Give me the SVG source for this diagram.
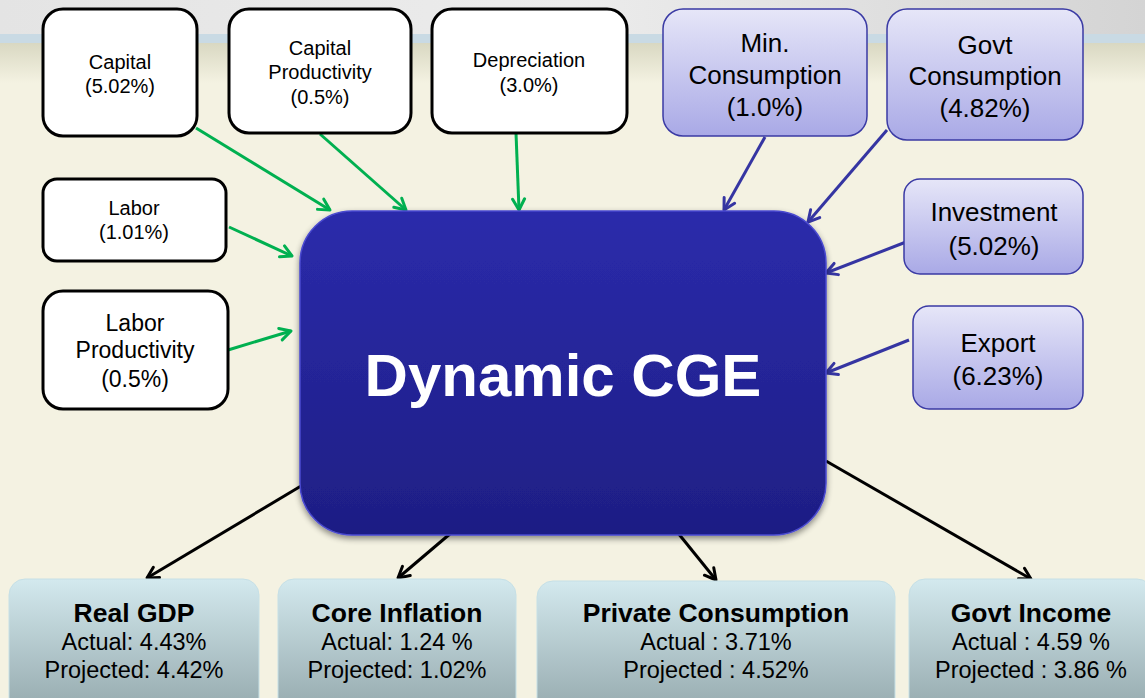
<svg xmlns="http://www.w3.org/2000/svg" width="1145" height="698" viewBox="0 0 1145 698">
<defs>
<linearGradient id="topband" x1="0" y1="0" x2="1" y2="0">
<stop offset="0" stop-color="#e4e4e4"/><stop offset="0.5" stop-color="#ececec"/><stop offset="1" stop-color="#d4d4d4"/>
</linearGradient>
<linearGradient id="beigefade" x1="0" y1="0" x2="0" y2="1">
<stop offset="0" stop-color="#d9d8c2"/><stop offset="1" stop-color="#f4f2e2"/>
</linearGradient>
<linearGradient id="purple" x1="0" y1="0" x2="0" y2="1">
<stop offset="0" stop-color="#e6e6f8"/><stop offset="1" stop-color="#a9a9e6"/>
</linearGradient>
<linearGradient id="core" x1="0" y1="0" x2="0" y2="1">
<stop offset="0" stop-color="#2b2bab"/><stop offset="1" stop-color="#1e1e84"/>
</linearGradient>
<linearGradient id="teal" x1="0" y1="0" x2="0" y2="1">
<stop offset="0" stop-color="#d3e9ee"/><stop offset="1" stop-color="#94a8ac"/>
</linearGradient>
<marker id="ag" viewBox="0 0 16 16" refX="14" refY="8" markerWidth="16" markerHeight="16" markerUnits="userSpaceOnUse" orient="auto">
<path d="M3,2 L14,8 L3,14" fill="none" stroke="#00b050" stroke-width="3" stroke-linecap="round" stroke-linejoin="round"/>
</marker>
<marker id="ab" viewBox="0 0 16 16" refX="14" refY="8" markerWidth="16" markerHeight="16" markerUnits="userSpaceOnUse" orient="auto">
<path d="M3,2 L14,8 L3,14" fill="none" stroke="#3535a2" stroke-width="3" stroke-linecap="round" stroke-linejoin="round"/>
</marker>
<marker id="ak" viewBox="0 0 16 16" refX="14" refY="8" markerWidth="16" markerHeight="16" markerUnits="userSpaceOnUse" orient="auto">
<path d="M3,2 L14,8 L3,14" fill="none" stroke="#000" stroke-width="3" stroke-linecap="round" stroke-linejoin="round"/>
</marker>
<filter id="sh" x="-10%" y="-10%" width="120%" height="125%">
<feGaussianBlur in="SourceAlpha" stdDeviation="3"/><feOffset dy="3"/>
<feComponentTransfer><feFuncA type="linear" slope="0.45"/></feComponentTransfer>
<feMerge><feMergeNode/><feMergeNode in="SourceGraphic"/></feMerge>
</filter>
</defs>
<style>
text{font-family:"Liberation Sans",Arial,sans-serif;text-anchor:middle;fill:#000}
.wbox{fill:#fff;stroke:#000;stroke-width:3}
.pbox{fill:url(#purple);stroke:#3a3aa4;stroke-width:1.5}
.tbox{fill:url(#teal);stroke:#c6e0e6;stroke-width:1}
.s20{font-size:20px}
.s23{font-size:23px}
.s26{font-size:26px}
.tt{font-size:26.5px;font-weight:bold}
.tl{font-size:23.5px}
.g{stroke:#00b050;stroke-width:3;fill:none;marker-end:url(#ag)}
.b{stroke:#3535a2;stroke-width:3;fill:none;marker-end:url(#ab)}
.k{stroke:#000;stroke-width:3;fill:none;marker-end:url(#ak)}
</style>
<rect x="0" y="0" width="1145" height="698" fill="#f4f2e2"/>
<rect x="0" y="0" width="1145" height="34" fill="url(#topband)"/>
<rect x="0" y="34" width="1145" height="9" fill="#c9dae4"/>
<rect x="0" y="43" width="1145" height="40" fill="url(#beigefade)"/>

<g id="connectors">
<line class="g" x1="196" y1="128" x2="330" y2="210"/>
<line class="g" x1="320" y1="134" x2="406" y2="210"/>
<line class="g" x1="516" y1="133" x2="519" y2="210"/>
<line class="g" x1="229" y1="227" x2="292" y2="256"/>
<line class="g" x1="228" y1="350" x2="291" y2="331"/>
<line class="b" x1="765" y1="137" x2="724" y2="210"/>
<line class="b" x1="887" y1="130" x2="808" y2="222"/>
<line class="b" x1="906" y1="242" x2="826" y2="273"/>
<line class="b" x1="909" y1="340" x2="826" y2="373"/>
<line class="k" x1="301" y1="486" x2="147" y2="578"/>
<line class="k" x1="451" y1="533" x2="398" y2="578"/>
<line class="k" x1="678" y1="533" x2="716" y2="580"/>
<line class="k" x1="826" y1="461" x2="1031" y2="579"/>
</g>

<g id="capital">
<rect class="wbox" x="43" y="9" width="154" height="127" rx="20"/>
<text class="s20" x="120" y="69">Capital</text>
<text class="s20" x="120" y="93">(5.02%)</text>
</g>
<g id="capital-productivity">
<rect class="wbox" x="229" y="9" width="182" height="124" rx="20"/>
<text class="s20" x="320" y="55">Capital</text>
<text class="s20" x="320" y="79">Productivity</text>
<text class="s20" x="320" y="104">(0.5%)</text>
</g>
<g id="depreciation">
<rect class="wbox" x="432" y="9" width="195" height="124" rx="20"/>
<text class="s20" x="529" y="67">Depreciation</text>
<text class="s20" x="529" y="92">(3.0%)</text>
</g>
<g id="labor">
<rect class="wbox" x="43" y="179" width="183" height="82" rx="14"/>
<text class="s20" x="134" y="215">Labor</text>
<text class="s20" x="134" y="239">(1.01%)</text>
</g>
<g id="labor-productivity">
<rect class="wbox" x="43" y="291" width="185" height="118" rx="20"/>
<text class="s23" x="135" y="331">Labor</text>
<text class="s23" x="135" y="358">Productivity</text>
<text class="s23" x="135" y="387">(0.5%)</text>
</g>

<g id="min-consumption">
<rect class="pbox" x="663" y="9" width="204" height="127" rx="20"/>
<text class="s26" x="765" y="52">Min.</text>
<text class="s26" x="765" y="84">Consumption</text>
<text class="s26" x="765" y="116">(1.0%)</text>
</g>
<g id="govt-consumption">
<rect class="pbox" x="887" y="9" width="196" height="131" rx="20"/>
<text class="s26" x="985" y="54">Govt</text>
<text class="s26" x="985" y="85">Consumption</text>
<text class="s26" x="985" y="117">(4.82%)</text>
</g>
<g id="investment">
<rect class="pbox" x="904" y="179" width="179" height="95" rx="16"/>
<text class="s26" x="994" y="221">Investment</text>
<text class="s26" x="994" y="255">(5.02%)</text>
</g>
<g id="export">
<rect class="pbox" x="913" y="306" width="170" height="103" rx="16"/>
<text class="s26" x="998" y="352">Export</text>
<text class="s26" x="998" y="385">(6.23%)</text>
</g>

<g id="dynamic-cge">
<rect x="300" y="211" width="526" height="324" rx="52" fill="url(#core)" stroke="#4a4ad0" stroke-width="1.5" filter="url(#sh)"/>
<text x="563" y="396" style="font-size:60px;font-weight:bold;fill:#fff">Dynamic CGE</text>
</g>

<g id="real-gdp">
<rect class="tbox" x="9" y="579" width="250" height="135" rx="16"/>
<text class="tt" x="134" y="622">Real GDP</text>
<text class="tl" x="134" y="650">Actual: 4.43%</text>
<text class="tl" x="134" y="678">Projected: 4.42%</text>
</g>
<g id="core-inflation">
<rect class="tbox" x="278" y="579" width="238" height="135" rx="16"/>
<text class="tt" x="397" y="622">Core Inflation</text>
<text class="tl" x="397" y="650">Actual: 1.24 %</text>
<text class="tl" x="397" y="678">Projected: 1.02%</text>
</g>
<g id="private-consumption">
<rect class="tbox" x="537" y="581" width="358" height="135" rx="16"/>
<text class="tt" x="716" y="622">Private Consumption</text>
<text class="tl" x="716" y="650">Actual : 3.71%</text>
<text class="tl" x="716" y="678">Projected : 4.52%</text>
</g>
<g id="govt-income">
<rect class="tbox" x="909" y="579" width="244" height="135" rx="16"/>
<text class="tt" x="1031" y="622">Govt Income</text>
<text class="tl" x="1031" y="650">Actual : 4.59 %</text>
<text class="tl" x="1031" y="678">Projected : 3.86 %</text>
</g>
</svg>
